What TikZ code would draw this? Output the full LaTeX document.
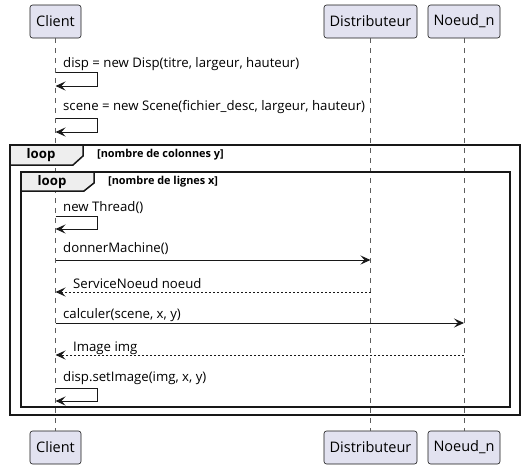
\documentclass[tikz,border=0pt]{standalone}
\usepackage{fontspec}
\setmainfont{Open Sans}
\usetikzlibrary{arrows.meta}
\definecolor{partfill}{HTML}{E2E2F0}
\definecolor{lineclr}{HTML}{181818}
\definecolor{tabfill}{HTML}{EEEEEE}
\begin{document}
\begin{tikzpicture}[x=1pt,y=-1pt,
  font=\fontsize{13.2}{15}\selectfont,
  part/.style={draw=lineclr, fill=partfill, rounded corners=2.5pt, line width=0.6pt, minimum height=33pt, inner sep=0pt, font=\fontsize{14.5}{16}\selectfont},
  lifeline/.style={draw=lineclr!70, dash pattern=on 5pt off 5pt, line width=0.6pt},
  msg/.style={draw=lineclr, line width=0.9pt, -{Stealth[length=10pt,width=9pt,inset=4pt]}},
  ret/.style={msg, dash pattern=on 2pt off 2pt},
  lbl/.style={anchor=base west, inner sep=0pt},
  frame/.style={draw=lineclr, line width=1.5pt},
  tab/.style={draw=lineclr, fill=tabfill, line width=1.5pt},
  tabtxt/.style={font=\fontsize{13.2}{15}\selectfont\bfseries, inner sep=0pt},
  cond/.style={font=\fontsize{10.9}{12}\selectfont\bfseries, anchor=west, inner sep=0pt}
]
\useasboundingbox (0,0) rectangle (525,469);
% participants
\node[part, minimum width=51pt] (c1) at (55.5,21.5) {Client};
\node[part, minimum width=93pt] (d1) at (370.5,21.5) {Distributeur};
\node[part, minimum width=72pt] (n1) at (464,21.5) {Noeud\_n};
\node[part, minimum width=51pt] (c2) at (55.5,447.5) {Client};
\node[part, minimum width=93pt] (d2) at (370.5,447.5) {Distributeur};
\node[part, minimum width=72pt] (n2) at (464,447.5) {Noeud\_n};
% lifelines
\draw[lifeline] (c1.south) -- (c2.north);
\draw[lifeline] (d1.south) -- (d2.north);
\draw[lifeline] (n1.south) -- (n2.north);
% frames
\draw[frame] (10,145) rectangle (520,415);
\draw[tab] (10,145) -- (83,145) -- (83,156) -- (73,165) -- (10,165) -- cycle;
\node[tabtxt] (l1) at (41,155) {loop};
\node[cond] (k1) at (97,155) {[nombre de colonnes y]};
\draw[frame] (21,172) rectangle (510,407);
\draw[tab] (21,172) -- (94,172) -- (94,183) -- (84,191) -- (21,191) -- cycle;
\node[tabtxt] (l2) at (52,182) {loop};
\node[cond] (k2) at (108,182) {[nombre de lignes x]};
% messages
\node[lbl] (m1) at (63,67) {disp = new Disp(titre, largeur, hauteur)};
\draw[msg] (c1.south |- 0,72) -- (97,72) -- (97,86) -- (c1.south |- 0,86);
\node[lbl] (m2) at (63,110) {scene = new Scene(fichier\_desc, largeur, hauteur)};
\draw[msg] (c1.south |- 0,118) -- (97,118) -- (97,132) -- (c1.south |- 0,132);
\node[lbl] (m3) at (63,211) {new Thread()};
\draw[msg] (c1.south |- 0,216) -- (97,216) -- (97,229) -- (c1.south |- 0,229);
\node[lbl] (m4) at (63,252) {donnerMachine()};
\draw[msg] (c1.south |- 0,260) -- (d1.south |- 0,260);
\node[lbl] (m5) at (73,288) {ServiceNoeud noeud};
\draw[ret] (d1.south |- 0,292) -- (c1.south |- 0,292);
\node[lbl] (m6) at (63,318) {calculer(scene, x, y)};
\draw[msg] (c1.south |- 0,323) -- (n1.south |- 0,323);
\node[lbl] (m7) at (73,351) {Image img};
\draw[ret] (n1.south |- 0,355) -- (c1.south |- 0,355);
\node[lbl] (m8) at (63,381) {disp.setImage(img, x, y)};
\draw[msg] (c1.south |- 0,388) -- (97,388) -- (97,401) -- (c1.south |- 0,401);
\end{tikzpicture}
\end{document}
